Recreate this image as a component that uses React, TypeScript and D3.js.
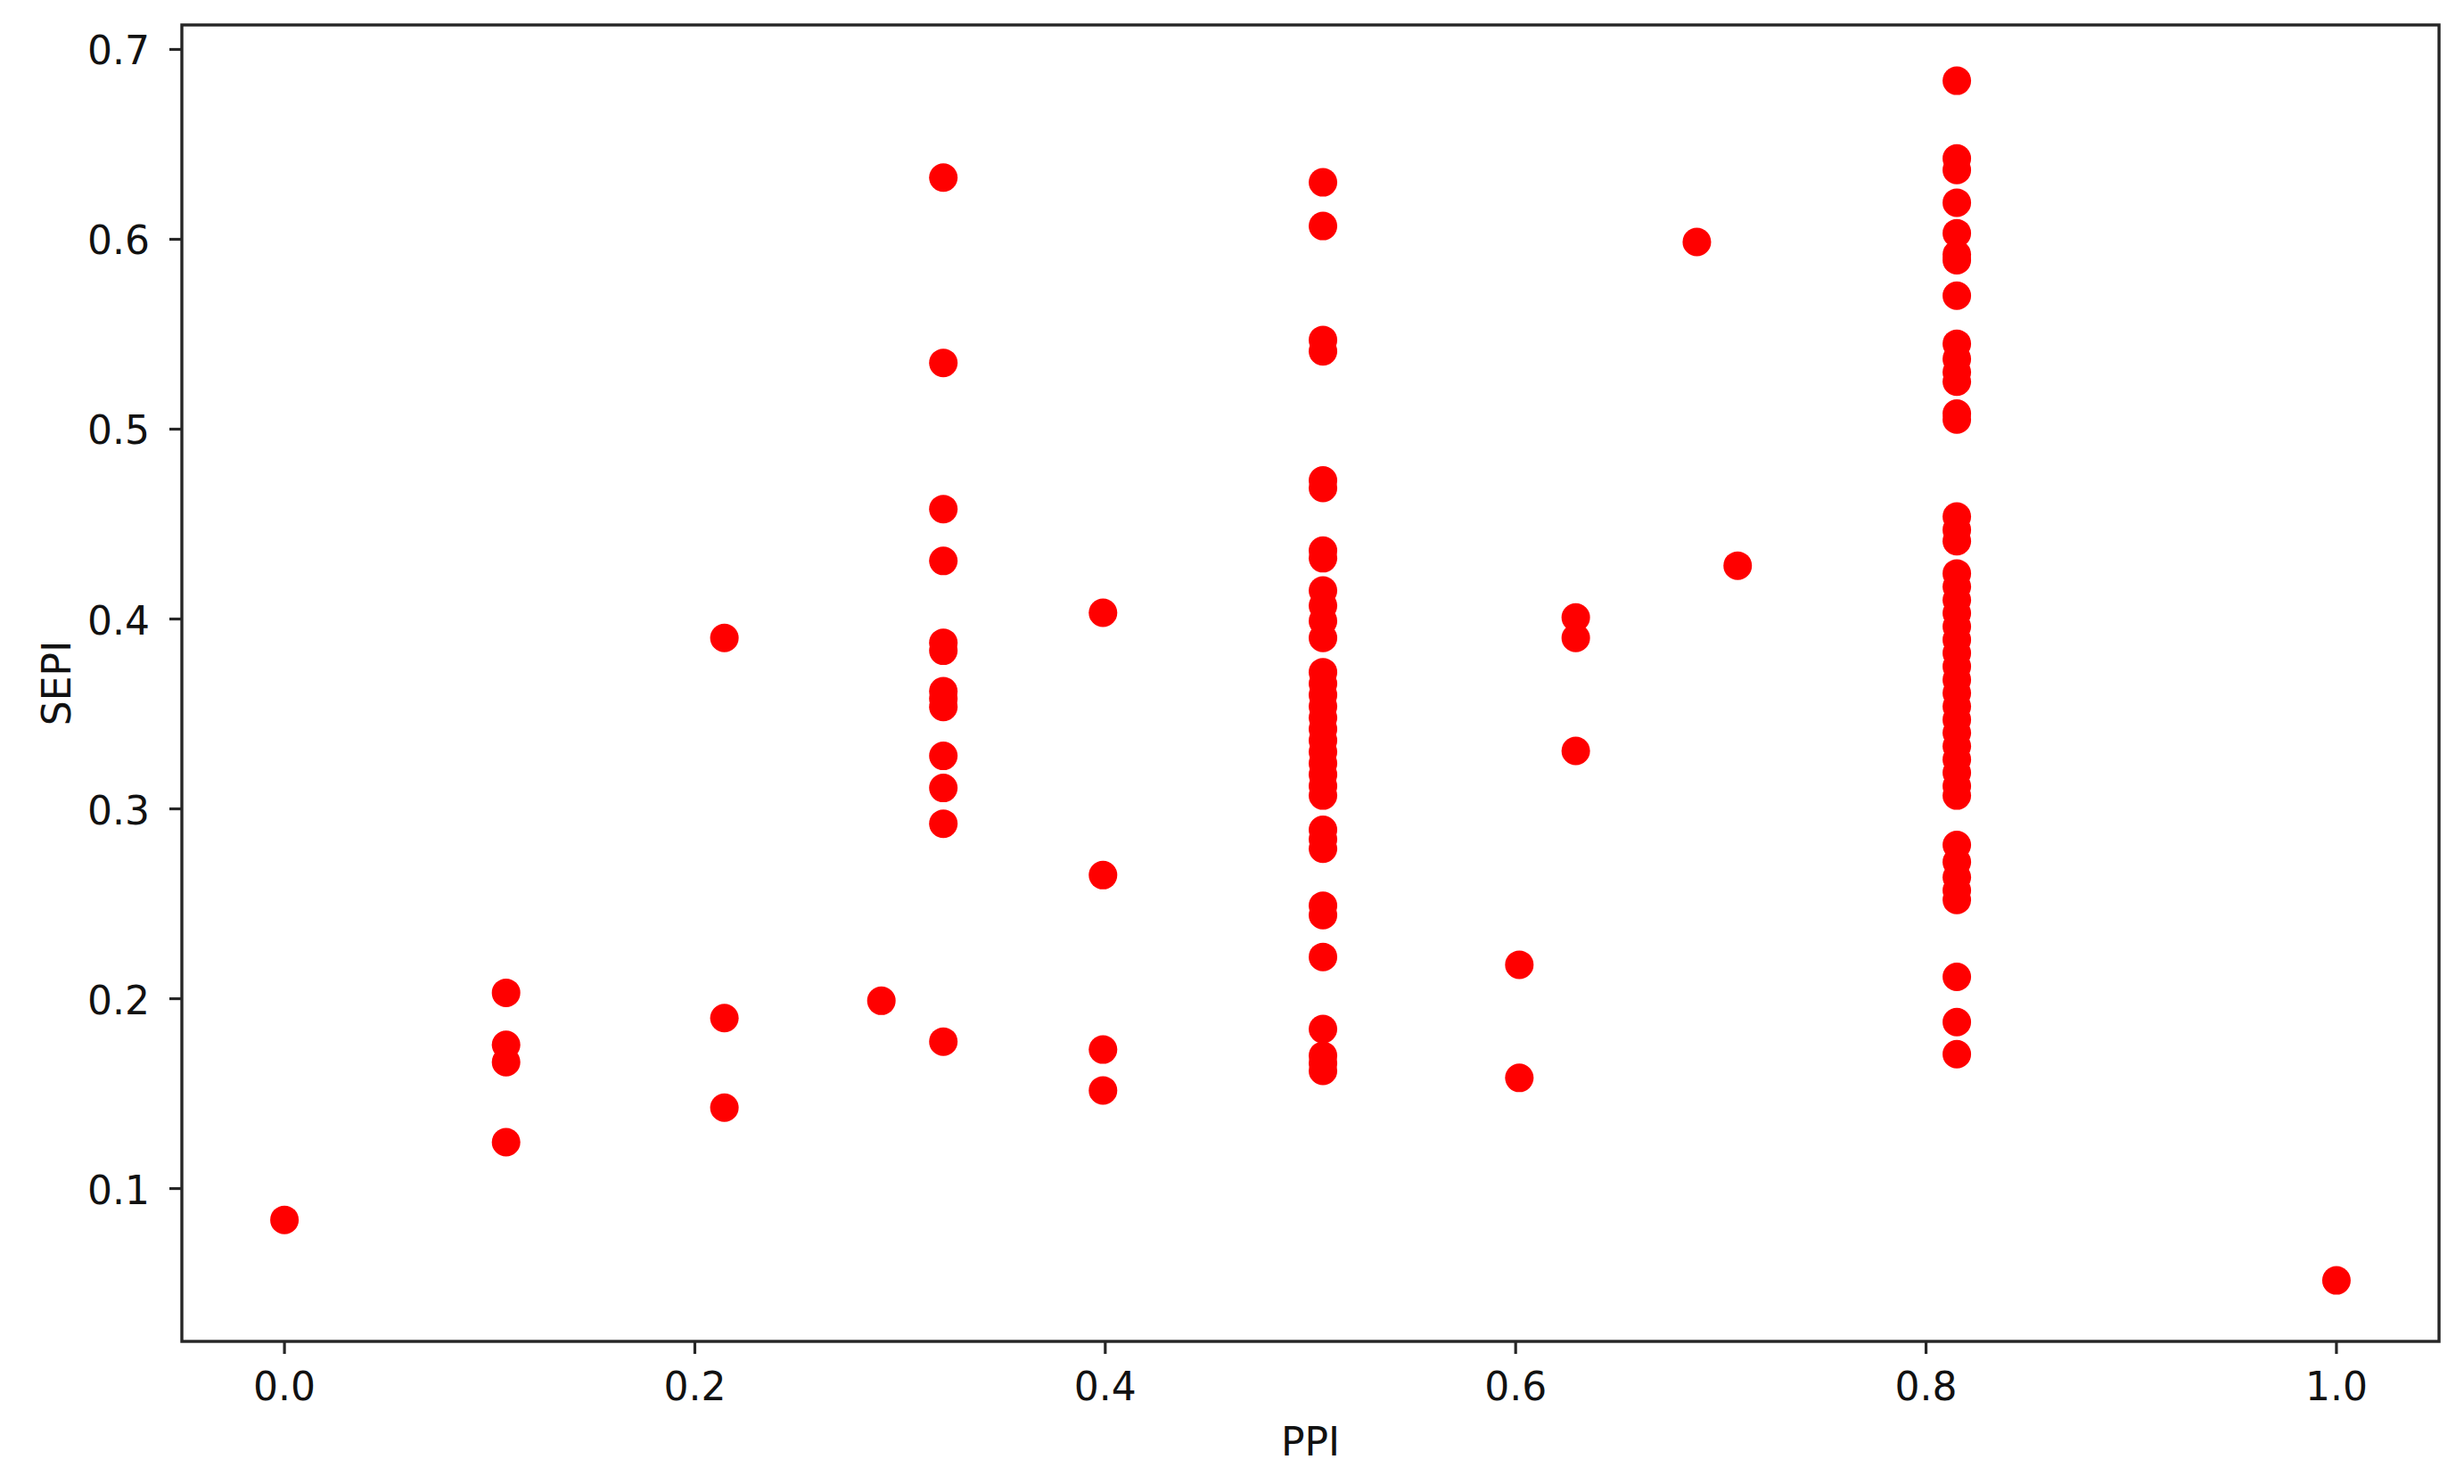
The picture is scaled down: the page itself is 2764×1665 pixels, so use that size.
import React from "react";
import * as d3 from "d3";

// PPI column positions (x) and SEPI values (y) for each column
const ppi000 = 0.0;
const sepi000 = [0.0835];

const ppi108 = 0.108;
const sepi108 = [0.2031, 0.1757, 0.1666, 0.1244];

const ppi214 = 0.2144;
const sepi214 = [0.39, 0.1898, 0.1426];

const ppi291 = 0.2909;
const sepi291 = [0.1989];

const ppi321 = 0.3211;
const sepi321 = [0.6325, 0.5349, 0.4579, 0.4306, 0.3875, 0.3833, 0.362, 0.358, 0.3537, 0.3279, 0.311, 0.2922, 0.1774];

const ppi399 = 0.3989;
const sepi399 = [0.4033, 0.2651, 0.1732, 0.1517];

const ppi506 = 0.5061;
const sepi506 = [
  0.63, 0.607, 0.547, 0.541, 0.473, 0.469, 0.436, 0.432,
  0.415, 0.407, 0.399, 0.39,
  0.372, 0.366, 0.36, 0.354, 0.348, 0.342, 0.336, 0.33, 0.324, 0.318, 0.312, 0.307,
  0.289, 0.284, 0.279, 0.249, 0.244, 0.222, 0.184, 0.17, 0.166, 0.162,
];

const ppi602 = 0.6018;
const sepi602 = [0.2179, 0.1583];

const ppi629 = 0.6293;
const sepi629 = [0.4008, 0.39, 0.3305];

const ppi688 = 0.6883;
const sepi688 = [0.5986];

const ppi708 = 0.7082;
const sepi708 = [0.4281];

const ppi815 = 0.815;
const sepi815 = [
  0.6835, 0.6426, 0.6365, 0.6193, 0.6032, 0.592, 0.589, 0.5703,
  0.545, 0.537, 0.53, 0.525, 0.5082, 0.5051,
  0.454, 0.447, 0.441,
  0.424, 0.417, 0.41, 0.403, 0.396, 0.389, 0.382, 0.375, 0.368, 0.361, 0.354, 0.347, 0.34, 0.333, 0.326, 0.319, 0.312, 0.307,
  0.281, 0.272, 0.264, 0.257, 0.252, 0.2115, 0.1877, 0.1708,
];

const ppi100 = 1.0;
const sepi100 = [0.0516];

const xTicks = [0.0, 0.2, 0.4, 0.6, 0.8, 1.0];
const yTicks = [0.1, 0.2, 0.3, 0.4, 0.5, 0.6, 0.7];
const xLabel = "PPI";
const yLabel = "SEPI";

const columns: [number, number[]][] = [
  [ppi000, sepi000],
  [ppi108, sepi108],
  [ppi214, sepi214],
  [ppi291, sepi291],
  [ppi321, sepi321],
  [ppi399, sepi399],
  [ppi506, sepi506],
  [ppi602, sepi602],
  [ppi629, sepi629],
  [ppi688, sepi688],
  [ppi708, sepi708],
  [ppi815, sepi815],
  [ppi100, sepi100],
];

const points = columns.flatMap(([x, ys]) => ys.map((y) => ({ x, y })));

export default function App() {
  const W = 2764;
  const H = 1665;
  const left = 204;
  const right = 2736;
  const top = 28;
  const bottom = 1505;

  const x = d3.scaleLinear().domain([-0.05, 1.05]).range([left, right]);
  const y = d3.scaleLinear().domain([0.0195, 0.7129]).range([bottom, top]);

  const fs = 44;
  const axisColor = "#262626";
  const tickLen = 14;
  const fmt = d3.format(".1f");

  return (
    <svg
      width={W}
      height={H}
      style={{ position: "absolute", left: 0, top: 0, display: "block", background: "#fff" }}
      fontFamily="'DejaVu Sans', sans-serif"
    >
      <rect x={0} y={0} width={W} height={H} fill="#fff" />
      <g>
        {points.map((p, i) => (
          <circle key={i} cx={x(p.x)} cy={y(p.y)} r={16} fill="#ff0000" />
        ))}
      </g>
      <rect
        x={left}
        y={top}
        width={right - left}
        height={bottom - top}
        fill="none"
        stroke={axisColor}
        strokeWidth={3.4}
      />
      {xTicks.map((t) => (
        <g key={"x" + t}>
          <line x1={x(t)} x2={x(t)} y1={bottom} y2={bottom + tickLen} stroke={axisColor} strokeWidth={3.2} />
          <text x={x(t)} y={1571} textAnchor="middle" fontSize={fs} fill="#111">
            {fmt(t)}
          </text>
        </g>
      ))}
      {yTicks.map((t) => (
        <g key={"y" + t}>
          <line x1={left - tickLen} x2={left} y1={y(t)} y2={y(t)} stroke={axisColor} strokeWidth={3.2} />
          <text x={left - tickLen - 22} y={y(t) + 17} textAnchor="end" fontSize={fs} fill="#111">
            {fmt(t)}
          </text>
        </g>
      ))}
      <text x={(left + right) / 2} y={1633} textAnchor="middle" fontSize={fs} fill="#111">
        {xLabel}
      </text>
      <text
        transform={`translate(79, ${(top + bottom) / 2}) rotate(-90)`}
        textAnchor="middle"
        fontSize={fs}
        fill="#111"
      >
        {yLabel}
      </text>
    </svg>
  );
}
